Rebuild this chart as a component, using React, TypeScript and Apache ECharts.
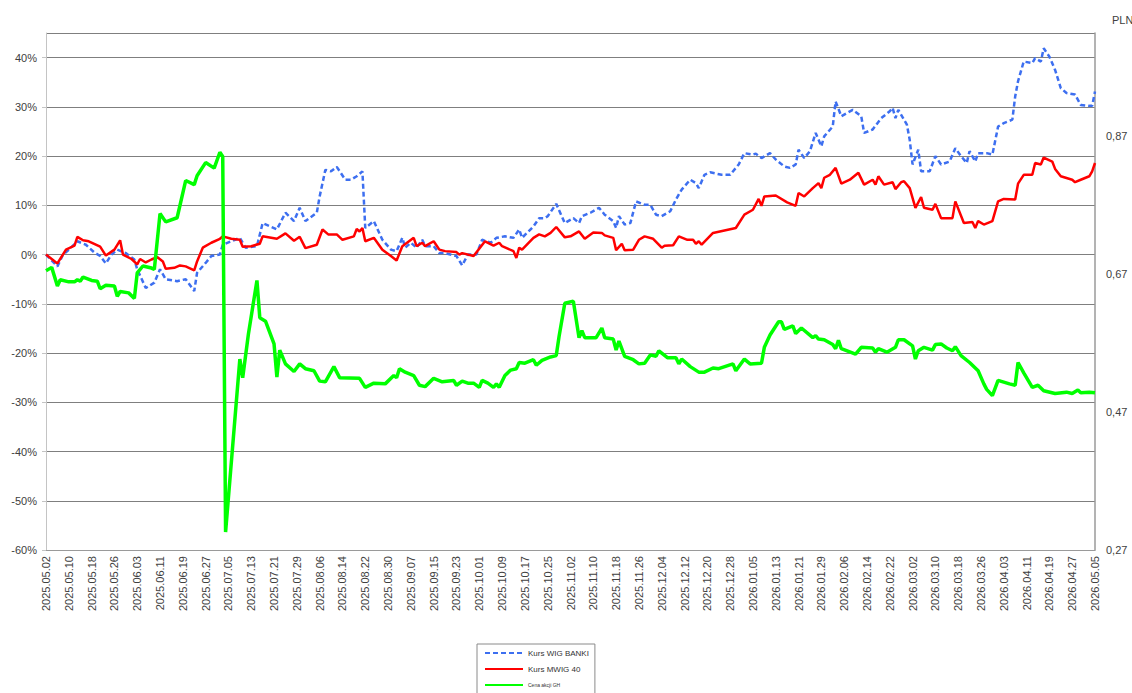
import React, { useEffect, useRef } from "react";
import * as echarts from "echarts";

// x = days since 2025.05.02
const startDate = Date.UTC(2025, 4, 2);
const totalDays = 368;
const tickStepDays = 8;

const seriesNames = ["Kurs WIG BANKI", "Kurs MWIG 40", "Cena akcji GH"];

// Kurs WIG BANKI, % change
const wigBanki: [number, number][] = [
  [0, 0], [4, -2.4], [6, 0], [8, 1.0], [11, 2.7], [14, 2.0], [17, 0.4], [19, -0.3], [21, -1.8], [23, 0],
  [25, 1.0], [28, 0.3], [31, -1.0], [32, -3.0], [35, -6.8], [38, -5.7], [40, -3.0], [42, -5.0], [46, -5.4], [49, -5.0],
  [52, -7.4], [53, -3.7], [56, -1.7], [58, -0.3], [61, 0], [62, 2.0], [68, 3.4], [70, 1.4], [74, 1.7], [76, 6.4],
  [81, 5.1], [84, 8.5], [87, 6.8], [89, 9.5], [91, 6.8], [95, 8.5], [96, 11.8], [98, 17.2], [100, 16.9], [102, 17.8],
  [105, 15.2], [107, 15.2], [109, 15.9], [111, 16.9], [112, 5.4], [115, 6.8], [118, 3.0], [121, 1.0], [123, 0.7], [125, 3.4],
  [126, 1.4], [128, 2.4], [130, 1.4], [132, 3.0], [133, 1.7], [136, 1.7], [138, 0.3], [140, 0.3], [144, -0.3], [146, -2.2],
  [148, 0], [151, 0], [153, 3.0], [156, 2.4], [158, 3.4], [161, 3.7], [164, 3.4], [166, 5.1], [167, 3.4], [171, 5.7],
  [173, 7.4], [175, 7.4], [176, 7.8], [179, 10.3], [180, 9.0], [182, 6.4], [185, 7.4], [187, 6.4], [188, 7.8], [191, 8.5],
  [194, 9.5], [196, 8.1], [199, 6.8], [200, 5.4], [201, 7.8], [203, 6.1], [205, 6.4], [207, 10.8], [210, 10.1], [212, 10.1],
  [214, 8.1], [216, 7.8], [219, 8.8], [221, 11.2], [223, 13.2], [226, 15.2], [228, 14.5], [229, 13.5], [231, 16.2], [233, 16.7],
  [237, 16.2], [240, 16.2], [243, 18.3], [245, 20.6], [248, 20.3], [249, 20.5], [251, 19.6], [254, 20.6], [256, 19.3], [259, 17.9],
  [261, 17.6], [263, 18.3], [264, 21.3], [266, 19.6], [268, 21.0], [270, 24.7], [272, 22.0], [273, 24.0], [276, 26.0], [277, 31.1],
  [279, 28.1], [283, 29.4], [286, 28.1], [287, 24.7], [290, 25.4], [293, 27.7], [296, 29.1], [297, 29.8], [298, 27.7], [299, 29.4],
  [302, 26.4], [303, 23.3], [304, 18.3], [306, 21.3], [307, 16.9], [310, 16.9], [312, 20.0], [314, 18.3], [317, 18.9], [319, 21.6],
  [321, 20.0], [323, 18.6], [324, 21.0], [326, 18.9], [327, 20.6], [330, 20.6], [332, 20.3], [334, 26.0], [336, 26.7], [339, 27.4],
  [340, 32.1], [341, 35.2], [343, 39.2], [346, 38.9], [347, 39.9], [349, 39.2], [350, 41.9], [352, 40.2], [354, 37.5], [356, 33.8],
  [358, 32.8], [361, 32.5], [363, 30.4], [366, 30.2], [367, 30.2], [368, 33.1],
];

// Kurs MWIG 40, % change
const mwig40: [number, number][] = [
  [0, 0], [2, -0.9], [4, -1.8], [7, 1.0], [10, 1.8], [11, 3.6], [13, 2.9], [15, 2.7], [19, 1.6], [21, -0.2],
  [24, 1.0], [26, 2.9], [27, 0], [30, -0.9], [32, -2.0], [33, -0.9], [35, -1.6], [37, -1.0], [39, -0.5], [41, -1.4],
  [42, -2.9], [45, -2.7], [47, -2.2], [49, -2.4], [52, -3.2], [53, -1.4], [55, 1.4], [58, 2.4], [61, 3.2], [62, 3.7],
  [65, 3.2], [68, 3.0], [69, 1.6], [72, 1.7], [75, 2.2], [76, 3.7], [81, 3.2], [84, 4.3], [87, 2.8], [89, 3.6],
  [91, 1.3], [95, 2.0], [97, 5.1], [99, 4.1], [102, 4.1], [104, 3.0], [108, 3.7], [109, 5.2], [110, 4.7], [111, 5.4],
  [112, 2.7], [115, 3.4], [118, 1.0], [121, -0.3], [123, -1.2], [125, 1.7], [129, 3.4], [130, 1.7], [132, 2.4], [133, 1.7],
  [136, 2.7], [138, 1.0], [140, 0.7], [144, 0.5], [145, 0], [146, 0.3], [150, -0.3], [154, 2.7], [157, 1.8], [159, 2.4],
  [160, 1.7], [164, 0.7], [165, -0.7], [166, 1.4], [167, 1.0], [171, 3.4], [173, 4.1], [175, 3.7], [177, 4.4], [179, 5.6],
  [182, 3.5], [184, 3.7], [187, 4.7], [189, 3.2], [192, 4.5], [195, 4.4], [196, 3.9], [199, 3.4], [200, 0.9], [202, 2.2],
  [203, 0.9], [206, 1.0], [208, 3.0], [210, 3.7], [213, 3.2], [216, 1.4], [217, 1.8], [220, 1.9], [222, 3.7], [225, 3.0],
  [227, 3.0], [228, 2.2], [229, 2.7], [230, 2.0], [234, 4.4], [238, 4.9], [242, 5.4], [245, 8.1], [248, 9.1], [250, 11.3],
  [251, 9.9], [252, 11.8], [256, 12.0], [260, 10.6], [263, 9.9], [264, 12.5], [266, 11.8], [269, 13.5], [271, 14.5], [272, 13.5],
  [273, 15.6], [275, 16.2], [277, 17.6], [279, 14.4], [282, 15.2], [285, 16.6], [287, 14.2], [290, 15.2], [291, 14.2], [292, 15.9],
  [294, 14.2], [297, 14.7], [298, 13.3], [300, 14.7], [301, 14.9], [303, 13.5], [305, 9.5], [307, 11.7], [308, 9.5], [311, 9.1],
  [312, 10.3], [314, 7.4], [318, 7.4], [319, 10.8], [322, 6.4], [325, 6.6], [326, 5.4], [327, 6.8], [329, 6.1], [332, 6.8],
  [334, 10.8], [336, 11.3], [340, 11.2], [341, 14.4], [343, 16.2], [346, 16.2], [347, 18.6], [349, 18.3], [350, 19.7], [353, 18.9],
  [354, 17.4], [356, 15.9], [360, 15.2], [361, 14.7], [363, 15.2], [366, 15.9], [367, 16.9], [368, 18.6],
];

// Cena akcji GH, PLN (right axis)
const ghPrice: [number, number][] = [
  [0, 0.675], [2, 0.68], [4, 0.653], [5, 0.662], [8, 0.659], [10, 0.659], [11, 0.662], [12, 0.66], [13, 0.666], [16, 0.661],
  [18, 0.66], [19, 0.649], [21, 0.654], [24, 0.653], [25, 0.638], [26, 0.645], [29, 0.643], [31, 0.635], [32, 0.672], [34, 0.682],
  [37, 0.679], [38, 0.677], [40, 0.758], [42, 0.746], [46, 0.752], [49, 0.806], [52, 0.8], [53, 0.813], [56, 0.832], [59, 0.824],
  [61, 0.847], [62, 0.841], [63, 0.296], [68, 0.547], [69, 0.52], [71, 0.583], [74, 0.661], [75, 0.607], [77, 0.602], [80, 0.569],
  [81, 0.521], [82, 0.56], [84, 0.54], [87, 0.529], [89, 0.54], [91, 0.533], [94, 0.53], [96, 0.515], [98, 0.514], [101, 0.536],
  [103, 0.52], [110, 0.519], [112, 0.506], [115, 0.512], [119, 0.511], [122, 0.523], [123, 0.52], [124, 0.533], [126, 0.528], [129, 0.523],
  [131, 0.509], [133, 0.507], [136, 0.519], [139, 0.514], [143, 0.516], [144, 0.509], [146, 0.515], [148, 0.512], [150, 0.512], [152, 0.506],
  [153, 0.516], [155, 0.512], [157, 0.506], [158, 0.511], [159, 0.506], [161, 0.523], [163, 0.531], [165, 0.533], [166, 0.542], [168, 0.541],
  [171, 0.546], [172, 0.538], [174, 0.545], [177, 0.55], [179, 0.552], [180, 0.58], [182, 0.628], [185, 0.631], [187, 0.578], [188, 0.588],
  [189, 0.578], [193, 0.578], [195, 0.592], [196, 0.578], [199, 0.576], [200, 0.56], [201, 0.573], [203, 0.551], [206, 0.546], [208, 0.54],
  [210, 0.541], [212, 0.553], [214, 0.551], [215, 0.559], [218, 0.549], [221, 0.549], [222, 0.54], [223, 0.547], [226, 0.536], [229, 0.528],
  [231, 0.528], [234, 0.534], [236, 0.533], [241, 0.54], [242, 0.53], [245, 0.547], [247, 0.54], [251, 0.541], [252, 0.564], [254, 0.582],
  [257, 0.601], [258, 0.601], [259, 0.59], [262, 0.595], [263, 0.584], [265, 0.592], [269, 0.578], [270, 0.581], [271, 0.576], [273, 0.575],
  [276, 0.568], [277, 0.562], [278, 0.574], [279, 0.562], [284, 0.554], [286, 0.564], [290, 0.563], [291, 0.557], [292, 0.562], [295, 0.557],
  [298, 0.564], [299, 0.575], [301, 0.575], [304, 0.566], [305, 0.547], [306, 0.559], [308, 0.564], [311, 0.56], [312, 0.568], [314, 0.569],
  [316, 0.563], [318, 0.559], [319, 0.565], [321, 0.552], [324, 0.542], [327, 0.53], [329, 0.511], [330, 0.503], [332, 0.494], [334, 0.516],
  [338, 0.511], [340, 0.509], [341, 0.542], [343, 0.527], [346, 0.506], [348, 0.509], [350, 0.501], [354, 0.497], [358, 0.499], [360, 0.497],
  [362, 0.502], [363, 0.498], [366, 0.499], [368, 0.498],
];

const leftMin = -60;
const leftMax = 45;
const leftStep = 10;
const rightMin = 0.27;
const rightMax = 1.02;
const rightStep = 0.2;

const FONT = "Liberation Sans, Arial, sans-serif";
const TXT = "#404040";

function dayLabel(d: number): string {
  const dt = new Date(startDate + Math.round(d) * 86400000);
  const y = dt.getUTCFullYear();
  const m = String(dt.getUTCMonth() + 1).padStart(2, "0");
  const day = String(dt.getUTCDate()).padStart(2, "0");
  return `${y}.${m}.${day}`;
}

export default function App() {
  const ref = useRef<HTMLDivElement>(null);
  useEffect(() => {
    if (!ref.current) return;
    const chart = echarts.init(ref.current, undefined, { renderer: "svg" });
    chart.setOption({
      animation: false,
      backgroundColor: "#ffffff",
      textStyle: { fontFamily: FONT },
      grid: { left: 46, right: 37, top: 33, bottom: 143, containLabel: false },
      legend: {
        orient: "vertical",
        left: 477,
        top: 644,
        height: 80,
        padding: [5, 6, 8, 7],
        borderColor: "#8a8a8a",
        borderWidth: 1,
        itemWidth: 38,
        itemHeight: 10,
        itemGap: 8,
        itemStyle: { opacity: 0, borderWidth: 0 },
        textStyle: { fontFamily: FONT, color: "#333", fontSize: 8 },
        data: [
          { name: seriesNames[0] },
          { name: seriesNames[1] },
          { name: seriesNames[2], textStyle: { fontSize: 5, color: "#333" } },
        ],
      },
      graphic: [
        {
          type: "text",
          left: 1112,
          top: 14,
          style: { text: "PLN", fontFamily: FONT, fontSize: 11, fill: TXT },
        },
      ],
      xAxis: {
        type: "value",
        min: 0,
        max: totalDays,
        interval: tickStepDays,
        axisLine: { show: true, onZero: false, lineStyle: { color: "#9a9a9a", width: 1 } },
        axisTick: { show: false },
        splitLine: { show: false },
        axisLabel: {
          rotate: 90,
          margin: 6,
          fontSize: 11,
          color: TXT,
          fontFamily: FONT,
          formatter: (v: number) => dayLabel(v),
        },
      },
      yAxis: [
        {
          type: "value",
          position: "left",
          min: leftMin,
          max: leftMax,
          interval: leftStep,
          axisLine: { show: true, lineStyle: { color: "#c4c4c4", width: 1 } },
          axisTick: { show: true, length: 4, lineStyle: { color: "#c4c4c4" } },
          splitLine: { show: true, lineStyle: { color: "#7f7f7f", width: 1.2 } },
          axisLabel: {
            margin: 9,
            fontSize: 11,
            color: TXT,
            fontFamily: FONT,
            showMaxLabel: false,
            formatter: (v: number) => `${Math.round(v)}%`,
          },
        },
        {
          type: "value",
          position: "right",
          min: rightMin,
          max: rightMax,
          interval: rightStep,
          axisLine: { show: true, lineStyle: { color: "#9a9a9a", width: 1.5 } },
          axisTick: { show: false },
          splitLine: { show: false },
          axisLabel: {
            margin: 11,
            fontSize: 11,
            color: TXT,
            fontFamily: FONT,
            showMaxLabel: false,
            formatter: (v: number) => v.toFixed(2).replace(".", ","),
          },
        },
      ],
      series: [
        {
          name: seriesNames[0],
          type: "line",
          yAxisIndex: 0,
          data: wigBanki,
          symbol: "none",
          lineStyle: { color: "#3d6ff0", width: 2.5, type: [5, 3] },
          itemStyle: { color: "#3d6ff0" },
        },
        {
          name: seriesNames[1],
          type: "line",
          yAxisIndex: 0,
          data: mwig40,
          symbol: "none",
          lineStyle: { color: "#ff0000", width: 2.5 },
          itemStyle: { color: "#ff0000" },
        },
        {
          name: seriesNames[2],
          type: "line",
          yAxisIndex: 1,
          data: ghPrice,
          symbol: "none",
          lineStyle: { color: "#00ff00", width: 3.5 },
          itemStyle: { color: "#00ff00" },
        },
      ],
    });
    return () => chart.dispose();
  }, []);
  return (
    <div
      ref={ref}
      style={{ position: "fixed", left: 0, top: 0, width: 1132, height: 693 }}
    />
  );
}
